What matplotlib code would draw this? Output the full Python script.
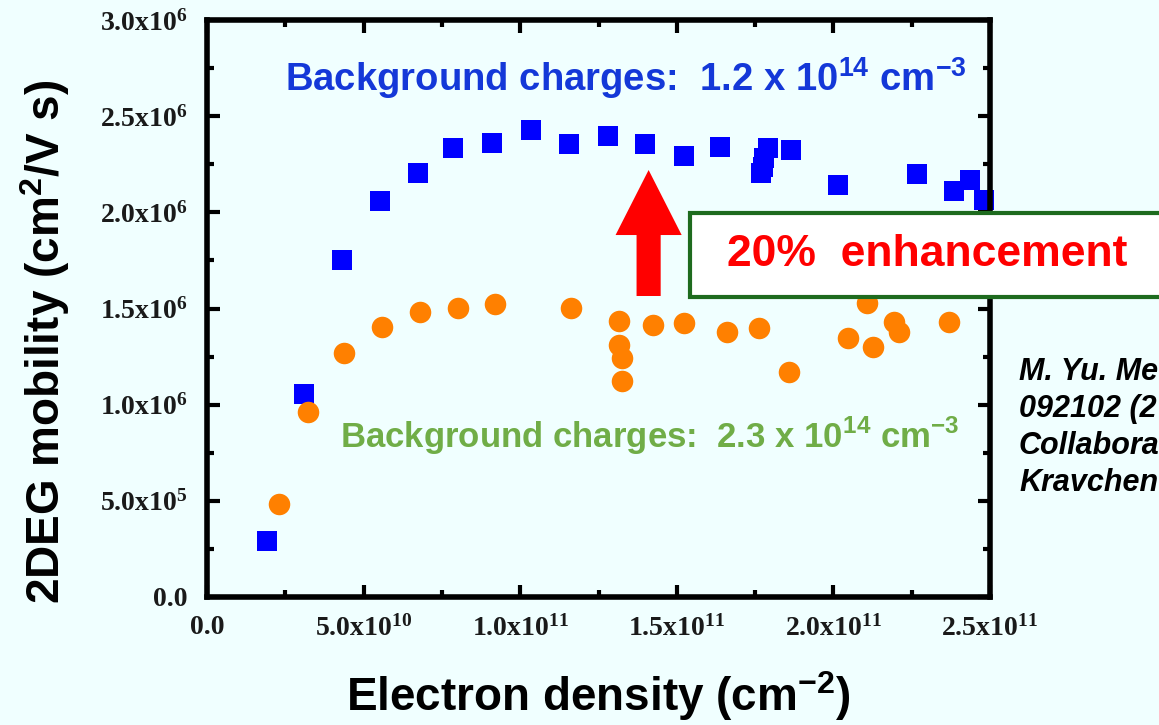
import numpy as np
import matplotlib
matplotlib.use("Agg")
import matplotlib.pyplot as plt
from matplotlib.patches import FancyArrow, Rectangle
from matplotlib.ticker import FuncFormatter, MultipleLocator

# ---- data ----
blue_x = [1.92e10, 3.10e10, 4.32e10, 5.53e10, 6.75e10, 7.86e10, 9.11e10, 1.033e11,
          1.157e11, 1.279e11, 1.400e11, 1.522e11, 1.637e11, 1.768e11, 1.774e11,
          1.777e11, 1.790e11, 1.864e11, 2.014e11, 2.267e11, 2.385e11, 2.436e11, 2.481e11]
blue_y = [0.291e6, 1.055e6, 1.752e6, 2.059e6, 2.204e6, 2.334e6, 2.360e6, 2.428e6,
          2.355e6, 2.397e6, 2.355e6, 2.293e6, 2.340e6, 2.204e6, 2.236e6,
          2.282e6, 2.334e6, 2.324e6, 2.142e6, 2.199e6, 2.111e6, 2.168e6, 2.064e6]

orange_x = [2.30e10, 3.23e10, 4.38e10, 5.59e10, 6.81e10, 8.02e10, 9.21e10, 1.161e11,
            1.317e11, 1.317e11, 1.324e11, 1.324e11, 1.423e11, 1.522e11, 1.659e11,
            1.762e11, 1.857e11, 2.046e11, 2.107e11, 2.126e11, 2.193e11, 2.209e11, 2.369e11]
orange_y = [0.484e6, 0.962e6, 1.269e6, 1.404e6, 1.482e6, 1.503e6, 1.523e6, 1.503e6,
            1.435e6, 1.310e6, 1.243e6, 1.123e6, 1.414e6, 1.425e6, 1.378e6,
            1.399e6, 1.170e6, 1.347e6, 1.529e6, 1.300e6, 1.430e6, 1.378e6, 1.430e6]

x_range = (0, 2.5e11)
y_range = (0, 3.0e6)

label_blue = r"Background charges:  1.2 x 10$^{\mathregular{14}}$ cm$^{\mathregular{-3}}$"
label_green = r"Background charges:  2.3 x 10$^{\mathregular{14}}$ cm$^{\mathregular{-3}}$"
enh_text = "20%  enhancement"
# the citation is cut off by the right edge in the reference; only the visible part
citation = ["M. Yu. Me", "092102 (2", "Collabora", "Kravchen"]

BG = "#F0FFFF"
SANS = ["Liberation Sans", "DejaVu Sans"]
SERIF = ["Liberation Serif", "DejaVu Serif"]

fig = plt.figure(figsize=(11.59, 7.25), dpi=100, facecolor=BG)
ax = fig.add_axes([207/1159, 1-597/725, (990-207)/1159, (597-20)/725])
ax.set_facecolor(BG)

ax.plot(blue_x, blue_y, linestyle="none", marker="s", markersize=14.5,
        color="#0000FF", markeredgewidth=0, zorder=3, clip_on=False)
ax.plot(orange_x, orange_y, linestyle="none", marker="o", markersize=15.5,
        color="#FF8000", markeredgewidth=0, zorder=4)

ax.set_xlim(*x_range)
ax.set_ylim(*y_range)

def fmt(v, pos):
    if v == 0:
        return "0.0"
    e = int(np.floor(np.log10(abs(v)) + 1e-9))
    m = v / 10**e
    return r"$\mathregular{%.1fx10^{%d}}$" % (m, e)

ax.xaxis.set_major_locator(MultipleLocator(5e10))
ax.xaxis.set_minor_locator(MultipleLocator(2.5e10))
ax.yaxis.set_major_locator(MultipleLocator(5e5))
ax.yaxis.set_minor_locator(MultipleLocator(2.5e5))
ax.xaxis.set_major_formatter(FuncFormatter(fmt))
ax.yaxis.set_major_formatter(FuncFormatter(fmt))

ax.tick_params(which="both", direction="in", top=True, right=True, width=3, color="black")
ax.tick_params(which="major", length=9)
ax.tick_params(which="minor", length=5)
ax.tick_params(axis="x", which="major", pad=13)
ax.tick_params(axis="y", which="major", pad=14)
for lab in ax.get_xticklabels() + ax.get_yticklabels():
    lab.set_fontfamily(SERIF)
    lab.set_fontweight("bold")
    lab.set_fontsize(20)
    lab.set_color("#1a1a1a")
for s in ax.spines.values():
    s.set_linewidth(4)
    s.set_zorder(6)

ax.set_xlabel(r"Electron density (cm$^{\mathregular{-2}}$)", family=SANS,
              fontweight="bold", fontsize=33, labelpad=20)
ax.set_ylabel(r"2DEG mobility (cm$^{\mathregular{2}}$/V s)", family=SANS,
              fontweight="bold", fontsize=33)
ax.yaxis.set_label_coords(-(207-72)/783, 0.442)

ax.text(0.535, 0.9, label_blue, transform=ax.transAxes, ha="center", va="center",
        family=SANS, fontweight="bold", fontsize=27.5, color="#1438D8", zorder=5)
ax.text(0.565, 0.279, label_green, transform=ax.transAxes, ha="center", va="center",
        family=SANS, fontweight="bold", fontsize=25, color="#70AD47", zorder=5)

# red arrow
ax.add_patch(FancyArrow(1.41e11, 1.565e6, 0, 2.22e6 - 1.565e6, width=7.7e9,
                        head_width=2.11e10, head_length=3.38e5,
                        length_includes_head=True, color="#FF0000", lw=0, zorder=5))

# enhancement box (extends past the right edge of the figure)
box = Rectangle((690/1159, 1-297/725), 600/1159, 84/725, transform=fig.transFigure,
                facecolor="white", edgecolor="#1E6B1E", linewidth=3, zorder=7,
                clip_on=False)
fig.patches.append(box)
fig.text(927/1159, 1-255/725, enh_text, ha="center", va="center", family=SANS,
         fontweight="bold", fontsize=32, color="#FF0000", zorder=8)

for i, line in enumerate(citation):
    fig.text(1019/1159, 1-(372+37*i)/725, line, ha="left", va="center", family=SANS,
             fontweight="bold", fontstyle="italic", fontsize=22, color="black")

fig.savefig("out.png", dpi=100, facecolor=BG)
